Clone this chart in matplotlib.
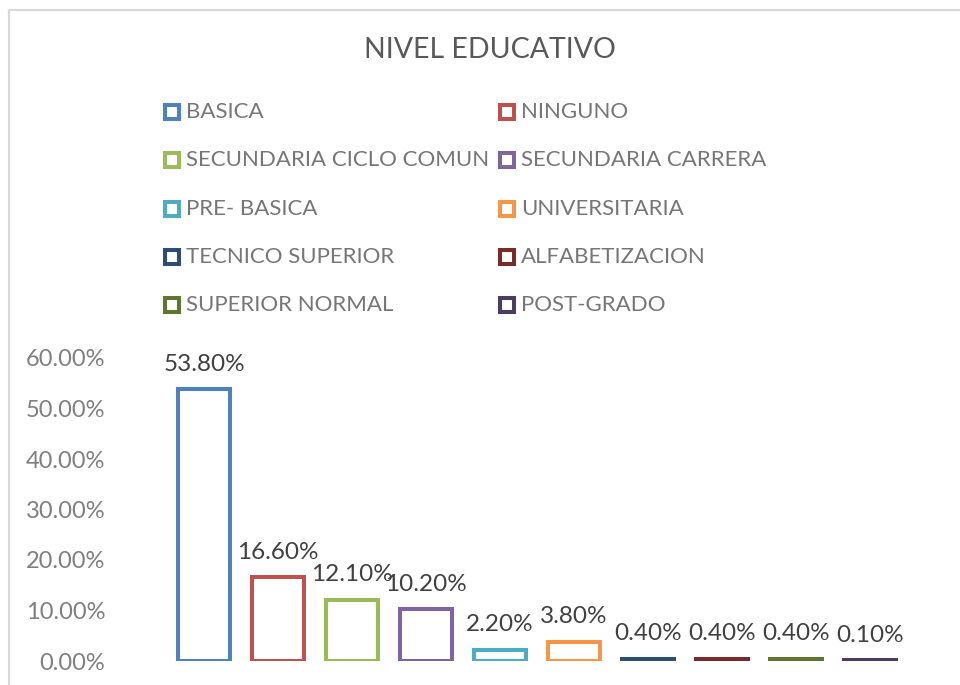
import matplotlib
matplotlib.use("Agg")
import matplotlib.pyplot as plt
from matplotlib.patches import Rectangle
from matplotlib.lines import Line2D

categories = [
    "BASICA", "NINGUNO", "SECUNDARIA CICLO COMUN", "SECUNDARIA CARRERA",
    "PRE- BASICA", "UNIVERSITARIA", "TECNICO SUPERIOR", "ALFABETIZACION",
    "SUPERIOR NORMAL", "POST-GRADO",
]
values = [53.8, 16.6, 12.1, 10.2, 2.2, 3.8, 0.4, 0.4, 0.4, 0.1]
colors = [
    "#4F81BD", "#C0504D", "#9BBB59", "#8064A2", "#4BACC6",
    "#F79646", "#2C4D75", "#772C2A", "#5F7530", "#4D3B62",
]
yticks = [0, 10, 20, 30, 40, 50, 60]

plt.rcParams["font.family"] = ["Lato", "DejaVu Sans"]

W, H = 960, 685
fig = plt.figure(figsize=(9.6, 6.85), dpi=100)

# chart border (Excel style)
fig.add_artist(Line2D([8.5 / W, 8.5 / W], [0, 1 - 9.5 / H], transform=fig.transFigure,
                      color="#d9d9d9", lw=1.5))
fig.add_artist(Line2D([8.5 / W, 1], [1 - 9.5 / H, 1 - 9.5 / H], transform=fig.transFigure,
                      color="#d9d9d9", lw=1.5))

ax = fig.add_axes([167 / W, 24 / H, 740 / W, 303 / H])
x = list(range(len(categories)))
ax.bar(x, values, width=0.70, facecolor="white", edgecolor=colors, linewidth=2.9)
for xi, v in zip(x, values):
    ax.annotate(f"{v:.2f}%", (xi, v), xytext=(0, 10.5), textcoords="offset points",
                ha="center", va="bottom", fontsize=17.5, color="#404040")

ax.set_xlim(-0.5, len(categories) - 0.5)
ax.set_ylim(0, 60)
ax.set_yticks(yticks)
ax.set_yticklabels([f"{t:.2f}%" for t in yticks], fontsize=17, color="#7f7f7f")
ax.set_xticks([])
ax.tick_params(axis="y", length=0, pad=44.5)
for s in ax.spines.values():
    s.set_visible(False)

fig.text(490 / W, 1 - 50 / H, "NIVEL EDUCATIVO", ha="center", va="center",
         fontsize=20.5, color="#595959")

# legend, two columns
col_x = [163, 498]
row_y = [112, 160, 209, 257, 305]
for i, (name, c) in enumerate(zip(categories, colors)):
    cx = col_x[i % 2]
    cy = row_y[i // 2]
    fig.add_artist(Rectangle(((cx + 2) / W, 1 - (cy + 7) / H), 14 / W, 14 / H,
                             transform=fig.transFigure, facecolor="white",
                             edgecolor=c, linewidth=2.9))
    fig.text((cx + 23) / W, 1 - cy / H, name, ha="left", va="center",
             fontsize=16, color="#767676")

fig.savefig("out.png", dpi=100)
